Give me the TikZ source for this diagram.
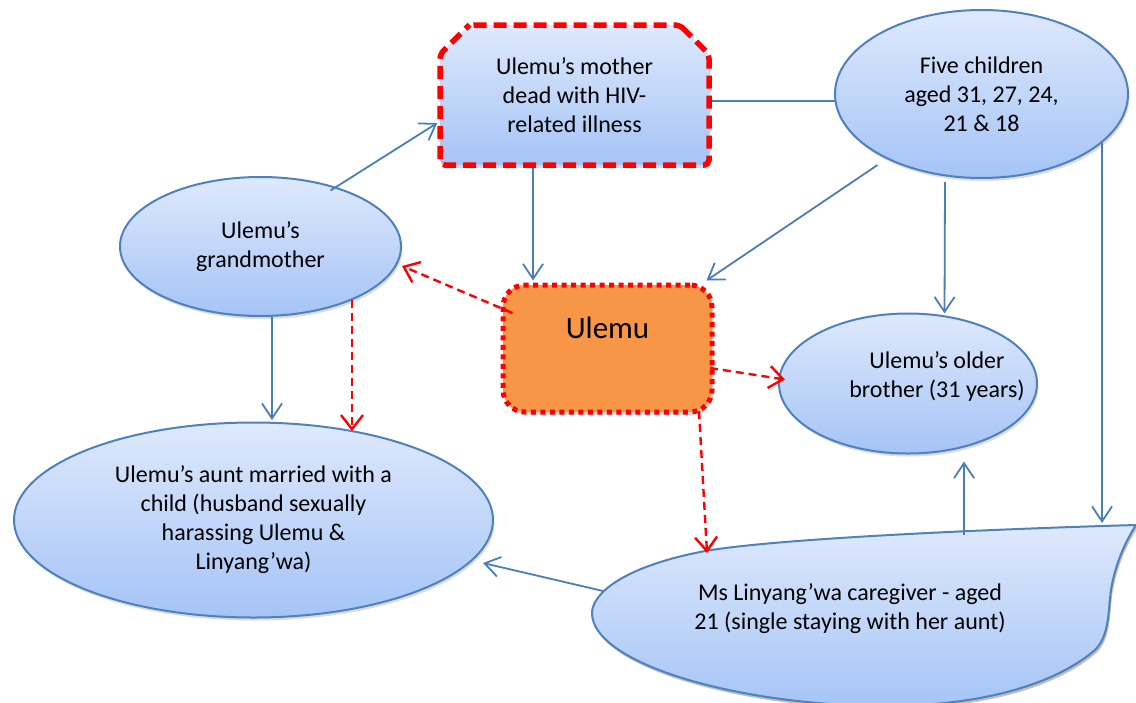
\documentclass[tikz,border=0pt]{standalone}
\usepackage{fontspec}
\setmainfont{Carlito}
\usetikzlibrary{shapes.geometric,shapes.misc,arrows.meta,calc,shadows}
\definecolor{bord}{RGB}{79,129,189}
\definecolor{conn}{RGB}{74,126,187}
\definecolor{ftop}{RGB}{222,233,252}
\definecolor{fbot}{RGB}{165,196,246}
\definecolor{orng}{RGB}{247,150,70}
\definecolor{redd}{RGB}{255,0,0}
\begin{document}
\begin{tikzpicture}[x=1pt,y=-1pt,
  every node/.style={font=\fontsize{24}{29}\selectfont, align=center, inner sep=0pt},
  shad/.style={drop shadow={opacity=0.28,shadow xshift=1.5pt,shadow yshift=-3pt}},
  blob/.style={ellipse, draw=bord, line width=2pt, top color=ftop, bottom color=fbot, shad},
  arr/.style={draw=conn, line width=1.8pt, -{Straight Barb[length=15pt,width=20pt]}},
  plainline/.style={draw=conn, line width=1.8pt},
  rarr/.style={draw=redd, line width=2.4pt, dash pattern=on 8pt off 5pt, -{Straight Barb[length=14pt,width=22pt]}}
]
\fill[white] (0,0) rectangle (1136,702);
\useasboundingbox (0,0) rectangle (1136,702);

% caregiver shape
\fill[black,opacity=0.25,xshift=1.5pt,yshift=-3pt]
  (1136,525) .. controls (960,530) and (760,540) .. (700,552)
  .. controls (620,568) and (592,595) .. (592,613)
  .. controls (592,660) and (720,702) .. (870,706)
  .. controls (990,708) and (1060,680) .. (1095,650)
  .. controls (1110,635) and (1108,610) .. (1111,590)
  .. controls (1115,565) and (1125,542) .. (1136,525) -- cycle;
\path[draw=bord, line width=2pt, top color=ftop, bottom color=fbot]
  (1136,525) .. controls (960,530) and (760,540) .. (700,552)
  .. controls (620,568) and (592,595) .. (592,613)
  .. controls (592,660) and (720,702) .. (870,706)
  .. controls (990,708) and (1060,680) .. (1095,650)
  .. controls (1110,635) and (1108,610) .. (1111,590)
  .. controls (1115,565) and (1125,542) .. (1136,525) -- cycle;
\node (lin) at (850,609) {Ms Linyang’wa caregiver - aged\\21 (single staying with her aunt)};
\coordinate (linA) at (1102,523);
\coordinate (linB) at (964,535);
\coordinate (linC) at (603,591);
\coordinate (linD) at (707,553);

% nodes
\node[chamfered rectangle, chamfered rectangle corners={north west,north east},
      chamfered rectangle xsep=26pt, chamfered rectangle angle=45,
      minimum width=269pt, minimum height=140pt,
      draw=redd, line width=5.5pt, dash pattern=on 13pt off 7pt, rounded corners=5pt,
      top color=ftop, bottom color=fbot, shad] (mother) at (574.5,95)
      {Ulemu’s mother\\dead with HIV-\\related illness};
\node[blob, minimum width=293pt, minimum height=168pt] (five) at (981.5,94)
      {Five children\\aged 31, 27, 24,\\21 \& 18};
\node[blob, minimum width=281pt, minimum height=139pt] (grand) at (260.5,246.5)
      {Ulemu’s\\grandmother};
\node[rectangle, rounded corners=22pt, fill=orng, draw=redd, line width=5pt,
      dash pattern=on 5pt off 4.5pt, minimum width=209pt, minimum height=127pt,
      font=\fontsize{31}{36}\selectfont, text height=22pt, text depth=43pt, shad]
      (ulemu) at (607.5,348.5) {Ulemu};
\node[blob, minimum width=258pt, minimum height=140pt,
      label={[xshift=29pt, yshift=7pt, align=center, font=\fontsize{24}{29}\selectfont]center:Ulemu’s older\\brother (31 years)}]
      (brother) at (908,383.5) {};
\node[blob, minimum width=479pt, minimum height=195pt] (aunt) at (253.5,520)
      {Ulemu’s aunt married with a\\child (husband sexually\\harassing Ulemu \&\\Linyang’wa)};

% connectors
\draw[arr] ($(grand.center)+(70,-56)$) -- ($(mother.west)+(0,28)$);
\draw[plainline] ($(mother.east)+(0,6)$) -- ($(five.west)+(1,7)$);
\draw[arr] ($(mother.south)+(-41.5,0)$) -- ($(ulemu.north)+(-74.5,-2)$);
\draw[arr] ($(five.center)+(-104,71)$) -- ($(ulemu.north east)+(-8,-2)$);
\draw[arr] ($(five.center)+(-36.5,88)$) -- ($(brother.center)+(36.5,-70)$);
\draw[arr] ($(five.center)+(120.5,49)$) -- (linA);
\draw[arr] (linB) -- ($(brother.center)+(56,78)$);
\draw[arr] (linC) -- ($(aunt.center)+(229.5,43)$);
\draw[arr] ($(grand.south)+(11.5,0)$) -- ($(aunt.center)+(18.5,-100)$);
\draw[rarr] ($(ulemu.center)+(-95,-35.5)$) -- ($(grand.center)+(141.5,19.5)$);
\draw[rarr] ($(grand.center)+(91.5,53)$) -- ($(aunt.center)+(98.5,-89)$);
\draw[rarr] ($(ulemu.center)+(102.5,19.5)$) -- ($(brother.west)+(7,-4)$);
\draw[rarr] ($(ulemu.center)+(91.5,62.5)$) -- (linD);
\end{tikzpicture}
\end{document}
